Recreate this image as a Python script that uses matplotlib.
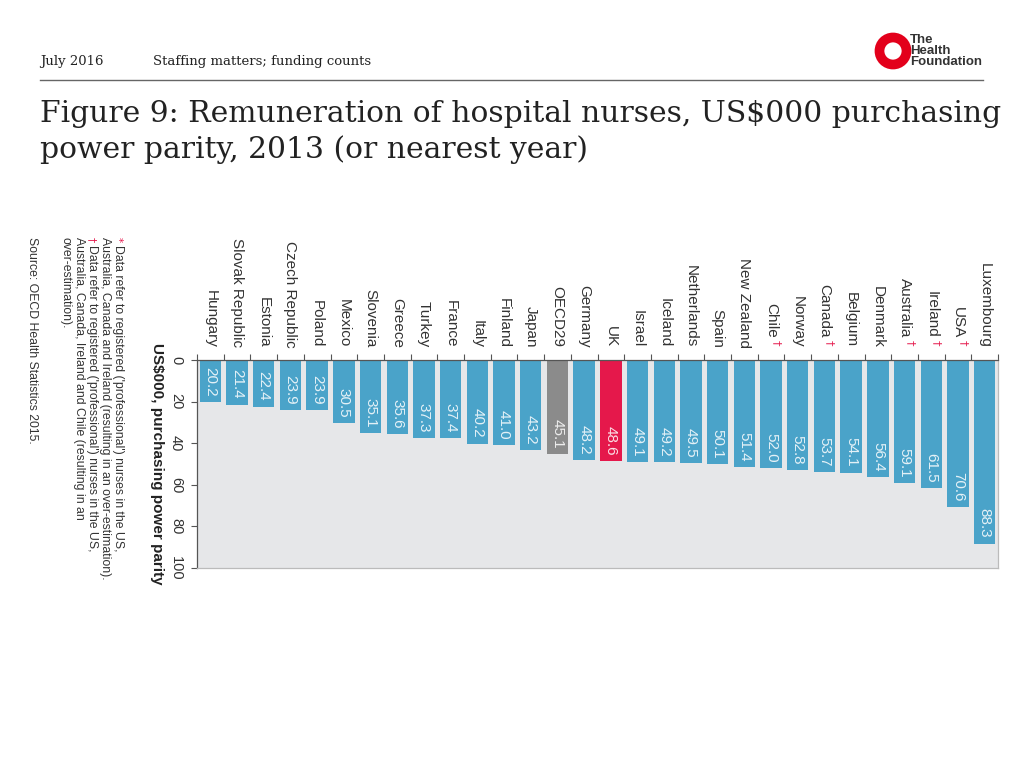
import numpy as np
import matplotlib
matplotlib.use("Agg")
import matplotlib.pyplot as plt
from matplotlib.patches import Ellipse
from matplotlib.lines import Line2D

countries = ["Hungary", "Slovak Republic", "Estonia", "Czech Republic", "Poland",
             "Mexico", "Slovenia", "Greece", "Turkey", "France", "Italy", "Finland",
             "Japan", "OECD29", "Germany", "UK", "Israel", "Iceland", "Netherlands",
             "Spain", "New Zealand", "Chile", "Norway", "Canada", "Belgium", "Denmark",
             "Australia", "Ireland", "USA", "Luxembourg"]
values = [20.2, 21.4, 22.4, 23.9, 23.9, 30.5, 35.1, 35.6, 37.3, 37.4, 40.2, 41.0,
          43.2, 45.1, 48.2, 48.6, 49.1, 49.2, 49.5, 50.1, 51.4, 52.0, 52.8, 53.7,
          54.1, 56.4, 59.1, 61.5, 70.6, 88.3]
dagger = ["Chile", "Canada", "Australia", "Ireland", "USA"]
value_ticks = [0, 20, 40, 60, 80, 100]

notes = [
    ("*", "Data refer to registered ('professional') nurses in the US,"),
    ("", "Australia, Canada and Ireland (resulting in an over-estimation)."),
    ("\u2020", "Data refer to registered ('professional') nurses in the US,"),
    ("", "Australia, Canada, Ireland and Chile (resulting in an"),
    ("", "over-estimation)."),
]
source = "Source: OECD Health Statistics 2015."

BLUE = "#4aa3c9"
RED = "#e5184b"
GREY = "#8b8b8b"
SANS = "Liberation Sans"

W, H = 1024, 768
fig = plt.figure(figsize=(W / 100, H / 100), dpi=100)

def fx(px):
    return px / W

def fy(py):
    return 1 - py / H

# header
fig.text(fx(40), fy(62), "July 2016", family="DejaVu Serif", fontsize=9.5,
         color="#222222", va="center")
fig.text(fx(153), fy(62), "Staffing matters; funding counts", family="DejaVu Serif",
         fontsize=9.5, color="#222222", va="center")
fig.add_artist(Line2D([fx(40), fx(983)], [fy(80), fy(80)], color="#666666", lw=1))
fig.add_artist(Ellipse((fx(893), fy(51)), 27 / W, 27 / H, fill=False,
                       edgecolor="#e3001b", lw=7))
fig.text(fx(910), fy(34), "The\nHealth\nFoundation", family=SANS, fontsize=9.5,
         fontweight="bold", color="#333333", va="top", ha="left", linespacing=0.9)

fig.text(fx(40), fy(100), "Figure 9: Remuneration of hospital nurses, US$000 purchasing\n"
         "power parity, 2013 (or nearest year)", family="DejaVu Serif", fontsize=21.4,
         color="#222222", va="top", ha="left", linespacing=1.3)

# chart
ax = fig.add_axes([fx(197), fy(568), fx(998) - fx(197), (568 - 360) / H])
ax.set_facecolor("#e6e7e9")
x = np.arange(len(countries))
colors = [RED if c == "UK" else GREY if c == "OECD29" else BLUE for c in countries]
ax.bar(x, values, width=0.8, color=colors, zorder=2)
ax.set_xlim(-0.5, len(countries) - 0.5)
ax.set_ylim(100, 0)

ax.xaxis.set_ticks_position("top")
ax.set_xticks(np.arange(-0.5, len(countries), 1))
ax.set_xticklabels([])
ax.tick_params(axis="x", length=4, color="#555555", width=0.8)
ax.set_yticks(value_ticks)
ax.set_yticklabels([str(v) for v in value_ticks], rotation=-90, va="center",
                   family=SANS, fontsize=10.5, color="#333333")
ax.tick_params(axis="y", length=4, color="#555555", width=0.8, pad=6)
for s in ["top", "left"]:
    ax.spines[s].set_color("#555555")
    ax.spines[s].set_linewidth(0.9)
for s in ["bottom", "right"]:
    ax.spines[s].set_color("#bbbbbb")
    ax.spines[s].set_linewidth(0.9)

for i, (c, v) in enumerate(zip(countries, values)):
    off = 16 if c in dagger else 9
    ax.annotate(c, xy=(i, 0), xytext=(0, off), textcoords="offset points",
                rotation=-90, rotation_mode="anchor", ha="right", va="center",
                family=SANS, fontsize=11, color="#333333", annotation_clip=False)
    if c in dagger:
        ax.annotate("\u2020", xy=(i, 0), xytext=(4, 10.5), textcoords="offset points",
                    rotation=-90, rotation_mode="anchor", ha="right", va="center",
                    family="DejaVu Sans", fontsize=8, color=RED, annotation_clip=False)
    ax.annotate(f"{v:.1f}", xy=(i, v), xytext=(0, 4), textcoords="offset points",
                rotation=-90, rotation_mode="anchor", ha="right", va="center",
                family=SANS, fontsize=11, color="white", alpha=0.85, zorder=3)

fig.text(fx(157), fy(464), "US$000, purchasing power parity", family=SANS,
         fontsize=11, fontweight="bold", rotation=-90, ha="center", va="center",
         color="#222222")

# notes down the left side
cols = [118, 105, 92, 79, 66]
for xc, (sym, line) in zip(cols, notes):
    y0 = 237
    if sym:
        fig.text(fx(xc), fy(y0), sym, family="DejaVu Sans", fontsize=7.5, color=RED,
                 rotation=-90, rotation_mode="anchor", ha="left", va="center")
        y0 += 8
    fig.text(fx(xc), fy(y0), line, family=SANS, fontsize=8.8, color="#333333",
             rotation=-90, rotation_mode="anchor", ha="left", va="center")
fig.text(fx(32), fy(237), source, family=SANS, fontsize=8.8, color="#333333",
         rotation=-90, rotation_mode="anchor", ha="left", va="center")

fig.savefig("out.png", dpi=100)
